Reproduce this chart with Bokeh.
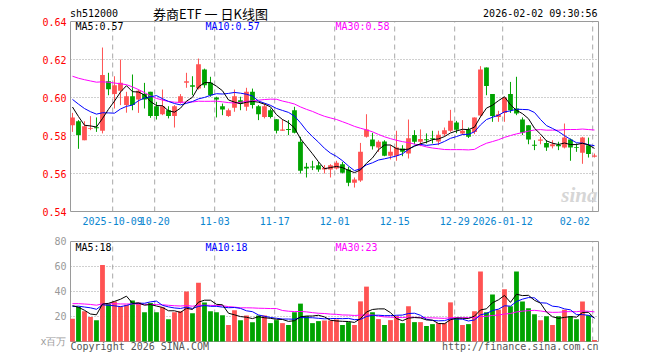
import numpy as np
from bokeh.plotting import figure
from bokeh.layouts import column
from bokeh.models import Range1d, FixedTicker, Label, NumeralTickFormatter, AllLabels
from bokeh.embed import file_html
from bokeh.resources import INLINE

# ---------------- data ----------------
tick_idx = [7, 14, 24, 34, 44, 54, 64, 72, 87]
tick_labels = ["2025-10-09", "10-20", "11-03", "11-17", "12-01", "12-15", "12-29", "2026-01-12", "02-02"]
last_label_idx = 84  # the last date label is drawn pulled inside the frame

open_ = [0.5854, 0.5875, 0.5775, 0.5836, 0.5844, 0.5825, 0.6086, 0.6018, 0.6035, 0.5960,
         0.6007, 0.5990, 0.6018, 0.6030, 0.5954, 0.5912, 0.5933, 0.5902, 0.5972, 0.6077,
         0.6065, 0.6047, 0.6147, 0.6077, 0.6000, 0.5954, 0.5902, 0.5946, 0.5986, 0.5951,
         0.6030, 0.5954, 0.5898, 0.5933, 0.5886, 0.5825, 0.5834, 0.5933, 0.5767, 0.5635,
         0.5637, 0.5644, 0.5621, 0.5621, 0.5626, 0.5649, 0.5621, 0.5551, 0.5563, 0.5793,
         0.5779, 0.5737, 0.5768, 0.5693, 0.5693, 0.5732, 0.5705, 0.5802, 0.5767, 0.5780,
         0.5785, 0.5768, 0.5807, 0.5825, 0.5868, 0.5811, 0.5832, 0.5818, 0.5905, 0.6158,
         0.6018, 0.5898, 0.5919, 0.6018, 0.5942, 0.5884, 0.5854, 0.5751, 0.5772, 0.5761,
         0.5744, 0.5751, 0.5737, 0.5779, 0.5740, 0.5709, 0.5749, 0.5688]
high = [0.5919, 0.5881, 0.5875, 0.5902, 0.5895, 0.6263, 0.6130, 0.6112, 0.6200, 0.6030,
        0.6121, 0.6042, 0.6077, 0.6030, 0.5977, 0.6042, 0.5954, 0.5960, 0.6018, 0.6130,
        0.6112, 0.6205, 0.6152, 0.6109, 0.6004, 0.5968, 0.5942, 0.6042, 0.6004, 0.6051,
        0.6047, 0.5960, 0.5968, 0.5942, 0.5886, 0.5886, 0.5881, 0.5951, 0.5793, 0.5656,
        0.5667, 0.5661, 0.5644, 0.5649, 0.5667, 0.5661, 0.5635, 0.5579, 0.5761, 0.5912,
        0.5814, 0.5775, 0.5775, 0.5749, 0.5825, 0.5749, 0.5884, 0.5828, 0.5832, 0.5811,
        0.5825, 0.5825, 0.5842, 0.5935, 0.5877, 0.5881, 0.5842, 0.5895, 0.6165, 0.6158,
        0.6018, 0.5930, 0.6000, 0.6082, 0.6109, 0.5895, 0.5854, 0.5775, 0.5793, 0.5775,
        0.5775, 0.5767, 0.5863, 0.5784, 0.5758, 0.5793, 0.5789, 0.5705]
low = [0.5819, 0.5730, 0.5775, 0.5828, 0.5819, 0.5811, 0.6012, 0.5942, 0.5960, 0.5920,
       0.5933, 0.5919, 0.5942, 0.5893, 0.5884, 0.5907, 0.5890, 0.5842, 0.5968, 0.6051,
       0.6012, 0.6042, 0.6051, 0.6004, 0.5895, 0.5907, 0.5898, 0.5925, 0.5933, 0.5930,
       0.5942, 0.5881, 0.5890, 0.5890, 0.5811, 0.5825, 0.5802, 0.5811, 0.5600, 0.5579,
       0.5618, 0.5609, 0.5600, 0.5579, 0.5621, 0.5600, 0.5533, 0.5526, 0.5556, 0.5789,
       0.5726, 0.5714, 0.5691, 0.5674, 0.5667, 0.5691, 0.5679, 0.5754, 0.5744, 0.5758,
       0.5758, 0.5749, 0.5795, 0.5819, 0.5812, 0.5802, 0.5787, 0.5807, 0.5898, 0.6012,
       0.5872, 0.5872, 0.5872, 0.5919, 0.5907, 0.5802, 0.5754, 0.5723, 0.5754, 0.5719,
       0.5732, 0.5723, 0.5732, 0.5667, 0.5714, 0.5651, 0.5684, 0.5684]
close = [0.5895, 0.5802, 0.5849, 0.5840, 0.5838, 0.6118, 0.6044, 0.6065, 0.6077, 0.6007,
         0.5960, 0.6035, 0.5990, 0.5902, 0.5902, 0.5954, 0.5902, 0.5954, 0.6007, 0.6086,
         0.6056, 0.6175, 0.6065, 0.6012, 0.5989, 0.5937, 0.5933, 0.6007, 0.5968, 0.6030,
         0.5960, 0.5912, 0.5954, 0.5898, 0.5825, 0.5832, 0.5830, 0.5814, 0.5614, 0.5626,
         0.5635, 0.5621, 0.5630, 0.5644, 0.5656, 0.5604, 0.5551, 0.5568, 0.5714, 0.5832,
         0.5744, 0.5767, 0.5693, 0.5714, 0.5737, 0.5714, 0.5785, 0.5767, 0.5781, 0.5778,
         0.5780, 0.5804, 0.5828, 0.5877, 0.5830, 0.5825, 0.5793, 0.5895, 0.6147, 0.6060,
         0.5902, 0.5912, 0.6000, 0.5933, 0.5916, 0.5814, 0.5779, 0.5749, 0.5779, 0.5737,
         0.5754, 0.5744, 0.5789, 0.5737, 0.5737, 0.5789, 0.5702, 0.5695]
volume = [18.2, 27.6, 24.2, 19.7, 17.1, 61.3, 30.3, 32.1, 28.2, 29.5,
          32.9, 31.3, 23.4, 30.8, 23.4, 27.4, 17.9, 23.4, 24.2, 40.0,
          22.6, 47.1, 31.3, 24.2, 23.4, 21.0, 13.2, 25.0, 17.1, 20.8,
          15.5, 20.8, 20.8, 14.7, 17.1, 14.7, 13.2, 23.4, 30.3, 20.3,
          14.7, 16.3, 16.8, 16.8, 17.6, 13.2, 15.5, 13.2, 32.1, 43.9,
          23.4, 17.9, 13.2, 17.1, 20.3, 14.7, 28.2, 15.5, 15.5, 12.4,
          13.9, 14.7, 14.7, 31.3, 18.9, 13.2, 13.9, 24.2, 56.0, 23.4,
          37.6, 25.5, 41.8, 28.2, 56.0, 32.1, 26.6, 21.8, 17.1, 20.3,
          13.2, 20.3, 25.5, 20.3, 17.9, 32.1, 21.0, 1.3]

# closes / volumes of the 29 sessions before the first visible one (needed for the moving averages)
prior_close = [0.612, 0.608, 0.604, 0.603, 0.606, 0.612, 0.618, 0.620, 0.614, 0.632,
               0.645, 0.648, 0.641, 0.630, 0.622, 0.612, 0.607, 0.604, 0.603, 0.605,
               0.6052, 0.6079, 0.6008, 0.5965, 0.6046, 0.6052, 0.6079, 0.5858, 0.5866]
prior_volume = [28, 33, 30, 35, 29, 32, 27, 34, 31, 30, 36, 29, 33, 28, 32, 30, 34, 31, 29, 38,
                25, 31, 26, 29, 25.5, 34.1, 36.2, 34.7, 20.3]

price_ma_labels = ["MA5:0.57", "MA10:0.57", "MA30:0.58"]
volume_ma_labels = ["MA5:18", "MA10:18", "MA30:23"]
header_code = "sh512000"
header_title = "券商ETF 一 日K线图"
header_time = "2026-02-02 09:30:56"
footer_left = "Copyright 2026 SINA.COM"
footer_right = "http://finance.sina.com.cn"
price_ticks = [0.54, 0.56, 0.58, 0.60, 0.62, 0.64]
volume_ticks = [0, 20, 40, 60, 80]
volume_unit = "x百万"

# ---------------- derived ----------------
n = len(close)
x = np.arange(n) + 0.3
o = np.array(open_); c = np.array(close); h = np.array(high); l = np.array(low)
up = c >= o
RED = "#ff5353"
GREEN = "#00a300"
colors = [RED if u else GREEN for u in up]
top = np.maximum(o, c)
bot = np.minimum(o, c)
bot = np.where(top - bot < 0.0005, top - 0.0005, bot)


def ma(prior, vals, k):
    arr = np.array(prior + vals, dtype=float)
    return np.convolve(arr, np.ones(k) / k, mode="valid")[-len(vals):]


ma5, ma10, ma30 = ma(prior_close, close, 5), ma(prior_close, close, 10), ma(prior_close, close, 30)
vma5, vma10, vma30 = ma(prior_volume, volume, 5), ma(prior_volume, volume, 10), ma(prior_volume, volume, 30)

MONO = "DejaVu Sans Mono"
W = 640
PX = 6.0                      # px per session
BOX_X = (-0.03, 87.97)        # drawn panel box in x data units
XR = Range1d(BOX_X[0] - 2 / PX, BOX_X[1] + 2 / PX)
PPY = 1900.0                  # px per price unit
VPY = 1.25                    # px per volume unit
FRAME_C = "#9a9a9a"
GRID_C = "#a8a8a8"
LINE_COLORS = ["#000000", "#0000ff", "#ff00ff"]
LABEL_X = [0.8, 22.47, 44.13]


def base(p):
    p.outline_line_color = None
    p.xgrid.visible = False
    p.ygrid.visible = False
    p.background_fill_color = "white"
    p.border_fill_color = "white"
    for ax in p.yaxis:
        ax.axis_line_color = None
        ax.major_tick_line_color = None
        ax.minor_tick_line_color = None
        ax.major_tick_out = 0
        ax.major_tick_in = 0
        ax.major_label_standoff = 2
        ax.major_label_text_font = MONO
        ax.major_label_text_font_size = "10px"


def panel_box(p, y0, y1, hgrid):
    # vertical dashed grid, horizontal dotted grid, then the frame
    p.segment(x0=tick_idx, y0=[y0] * len(tick_idx), x1=tick_idx, y1=[y1] * len(tick_idx),
              line_color=GRID_C, line_dash="5 4", line_width=1)
    p.segment(x0=[BOX_X[0]] * len(hgrid), y0=hgrid, x1=[BOX_X[1]] * len(hgrid), y1=hgrid,
              line_color="#a0a0a0", line_dash="1 2", line_width=1)
    p.quad(left=[BOX_X[0]], right=[BOX_X[1]], bottom=[y0], top=[y1],
           fill_color=None, line_color=FRAME_C, line_width=1)


# ---------------- price panel (frame reaches the top of the page for the header) ----------------
p1 = figure(width=W, height=232, output_backend="svg", toolbar_location=None,
            x_range=XR, y_range=Range1d(0.54 - 2 / PPY, 0.54 + 211 / PPY),
            min_border_left=68, min_border_right=W - 68 - 532, min_border_top=0, min_border_bottom=19)
base(p1)
p1.yaxis.ticker = FixedTicker(ticks=price_ticks)
p1.yaxis.formatter = NumeralTickFormatter(format="0.00")
p1.yaxis.major_label_text_color = "#ff0000"

xa = p1.xaxis[0]
label_pos = tick_idx[:-1] + [last_label_idx]
xa.ticker = FixedTicker(ticks=label_pos)
xa.major_label_overrides = {t: lab for t, lab in zip(label_pos, tick_labels)}
xa.major_label_policy = AllLabels()
xa.axis_line_color = None
xa.major_tick_line_color = None
xa.minor_tick_line_color = None
xa.major_tick_out = 0
xa.major_tick_in = 0
xa.major_label_standoff = 3
xa.major_label_text_font = MONO
xa.major_label_text_font_size = "10px"
xa.major_label_text_color = "#0a86d0"

panel_box(p1, price_ticks[0], price_ticks[-1], price_ticks[1:-1])

# watermark
p1.add_layout(Label(x=87.8, y=0.5489, text="sina", text_align="right", text_baseline="middle",
                    text_font="Verdana", text_font_size="21px", text_font_style="bold italic",
                    text_color="#d6d6d6"))

p1.segment(x, l, x, h, color=colors, line_width=1)
p1.vbar(x=x, top=top, bottom=bot, width=0.8, fill_color=colors, line_color=None)
p1.line(x, ma30, color=LINE_COLORS[2], line_width=1)
p1.line(x, ma10, color=LINE_COLORS[1], line_width=1)
p1.line(x, ma5, color=LINE_COLORS[0], line_width=1)

# header texts
yh = 0.54 + (211 - 13) / PPY
p1.add_layout(Label(x=-0.12, y=yh, text=header_code, text_align="left", text_baseline="middle",
                    text_font=MONO, text_font_size="10px", text_color="#000000"))
p1.add_layout(Label(x=23.3, y=yh + 0.5 / PPY, text=header_title, text_align="center", text_baseline="middle",
                    text_font="Noto Sans CJK SC", text_font_size="13px", text_color="#000000"))
p1.add_layout(Label(x=87.8, y=yh, text=header_time, text_align="right", text_baseline="middle",
                    text_font=MONO, text_font_size="10px", text_color="#000000"))
for xl, txt, col in zip(LABEL_X, price_ma_labels, LINE_COLORS):
    p1.add_layout(Label(x=xl, y=0.64 - 5.3 / PPY, text=txt, text_align="left", text_baseline="middle",
                        text_font=MONO, text_font_size="10px", text_color=col))

# ---------------- volume panel (frame reaches the bottom of the page for the footer) ----------------
p2 = figure(width=W, height=120, output_backend="svg", toolbar_location=None,
            x_range=XR, y_range=Range1d(-11 / VPY, 109 / VPY),
            min_border_left=68, min_border_right=W - 68 - 532, min_border_top=0, min_border_bottom=0)
base(p2)
p2.yaxis.ticker = FixedTicker(ticks=volume_ticks)
p2.yaxis.major_label_overrides = {volume_ticks[0]: volume_unit}
p2.yaxis.major_label_text_color = "#999999"
p2.xaxis.visible = False

panel_box(p2, volume_ticks[0], volume_ticks[-1], volume_ticks[1:-1])

p2.vbar(x=x, top=volume, bottom=0, width=0.8, fill_color=colors, line_color=None)
p2.line(x, vma30, color=LINE_COLORS[2], line_width=1)
p2.line(x, vma10, color=LINE_COLORS[1], line_width=1)
p2.line(x, vma5, color=LINE_COLORS[0], line_width=1)

for xl, txt, col in zip(LABEL_X, volume_ma_labels, LINE_COLORS):
    p2.add_layout(Label(x=xl, y=80 - 6 / VPY, text=txt, text_align="left", text_baseline="middle",
                        text_font=MONO, text_font_size="10px", text_color=col))
p2.add_layout(Label(x=BOX_X[0], y=-5 / VPY, text=footer_left, text_align="left",
                    text_baseline="middle", text_font=MONO, text_font_size="10px", text_color="#555555"))
p2.add_layout(Label(x=BOX_X[1], y=-5 / VPY, text=footer_right, text_align="right",
                    text_baseline="middle", text_font=MONO, text_font_size="10px", text_color="#555555"))

layout = column(p1, p2, spacing=0)
open("out.html", "w").write(file_html(layout, INLINE))
